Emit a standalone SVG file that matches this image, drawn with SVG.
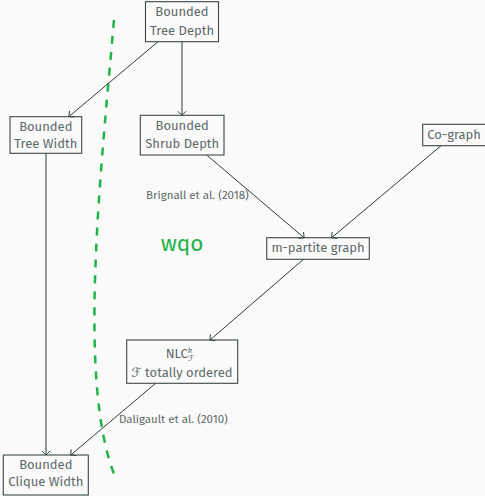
<svg xmlns="http://www.w3.org/2000/svg" width="485" height="496" viewBox="0 0 485 496">
<style>
.box{fill:none;stroke:#3b4747;stroke-width:1.1}
.t{font-family:"Fira Sans","Open Sans","Noto Sans",sans-serif;font-size:13px;fill:#5d6969;text-anchor:middle}
.lab{font-family:"Fira Sans","Open Sans","Noto Sans",sans-serif;font-size:11.5px;fill:#5d6969}
.e{fill:none;stroke:#2f3b3b;stroke-width:1;marker-end:url(#ah)}
</style>
<defs>
<marker id="ah" markerWidth="12" markerHeight="12" refX="0" refY="0" viewBox="-6 -6 12 12" orient="auto" markerUnits="userSpaceOnUse">
<path d="M-4,-4 Q-0.8,-1 0,0 Q-0.8,1 -4,4" fill="none" stroke="#2f3b3b" stroke-width="1"/>
</marker>
</defs>
<rect width="485" height="496" fill="#fafafa"/>
<path d="M114,20 C100,180 78,380 114,474" fill="none" stroke="#1fb34a" stroke-width="2.5" stroke-dasharray="8,8"/>
<g id="connectors">
<line class="e" x1="158" y1="41.7" x2="69" y2="116.5"/>
<line class="e" x1="182" y1="41.7" x2="182" y2="115.3"/>
<line class="e" x1="206.7" y1="155" x2="304" y2="237.7"/>
<line class="e" x1="441" y1="145.7" x2="331.7" y2="237.7"/>
<line class="e" x1="303.5" y1="259.3" x2="210" y2="340"/>
<line class="e" x1="46" y1="153.3" x2="46" y2="455"/>
<line class="e" x1="155.7" y1="383.3" x2="70.7" y2="455"/>
</g>
<text class="lab" x="146" y="199">Brignall et al. (2018)</text>
<text class="lab" x="119" y="423">Daligault et al. (2010)</text>
<text x="182" y="251" font-family="'Fira Sans','Open Sans','Noto Sans',sans-serif" font-size="22.5" fill="#1fb34a" text-anchor="middle">wqo</text>
<g id="treedepth">
<rect class="box" x="145.5" y="1.7" width="73" height="40"/>
<text class="t" x="182" y="16">Bounded</text>
<text class="t" x="182" y="35">Tree Depth</text>
</g>
<g id="shrubdepth">
<rect class="box" x="140.3" y="115.3" width="83.7" height="39.7"/>
<text class="t" x="182.2" y="130">Bounded</text>
<text class="t" x="182.2" y="148.3">Shrub Depth</text>
</g>
<g id="treewidth">
<rect class="box" x="10" y="116.7" width="71.7" height="36.6"/>
<text class="t" x="45.8" y="130.7">Bounded</text>
<text class="t" x="45.8" y="148.3">Tree Width</text>
</g>
<g id="cograph">
<rect class="box" x="422.7" y="124.3" width="66" height="21.4"/>
<text class="t" x="427.3" y="138.5" style="text-anchor:start">Co-graph</text>
</g>
<g id="mpartite">
<rect class="box" x="266.7" y="237.7" width="102.6" height="21.6"/>
<text class="t" x="318" y="252">m-partite graph</text>
</g>
<g id="nlc">
<rect class="box" x="126.7" y="340" width="111" height="43.3"/>
<text class="t" x="180" y="358">NLC<tspan font-size="8" dy="-5" font-style="italic">k</tspan><tspan font-size="8" dx="-4" dy="8" font-family="'DejaVu Sans',sans-serif" font-style="italic">ℱ</tspan></text>
<text class="t" x="182" y="377"><tspan font-family="'DejaVu Sans',sans-serif" font-style="italic">ℱ</tspan> totally ordered</text>
</g>
<g id="cliquewidth">
<rect class="box" x="3.3" y="455" width="85" height="40"/>
<text class="t" x="45.8" y="468.5">Bounded</text>
<text class="t" x="45.8" y="486">Clique Width</text>
</g>
</svg>
